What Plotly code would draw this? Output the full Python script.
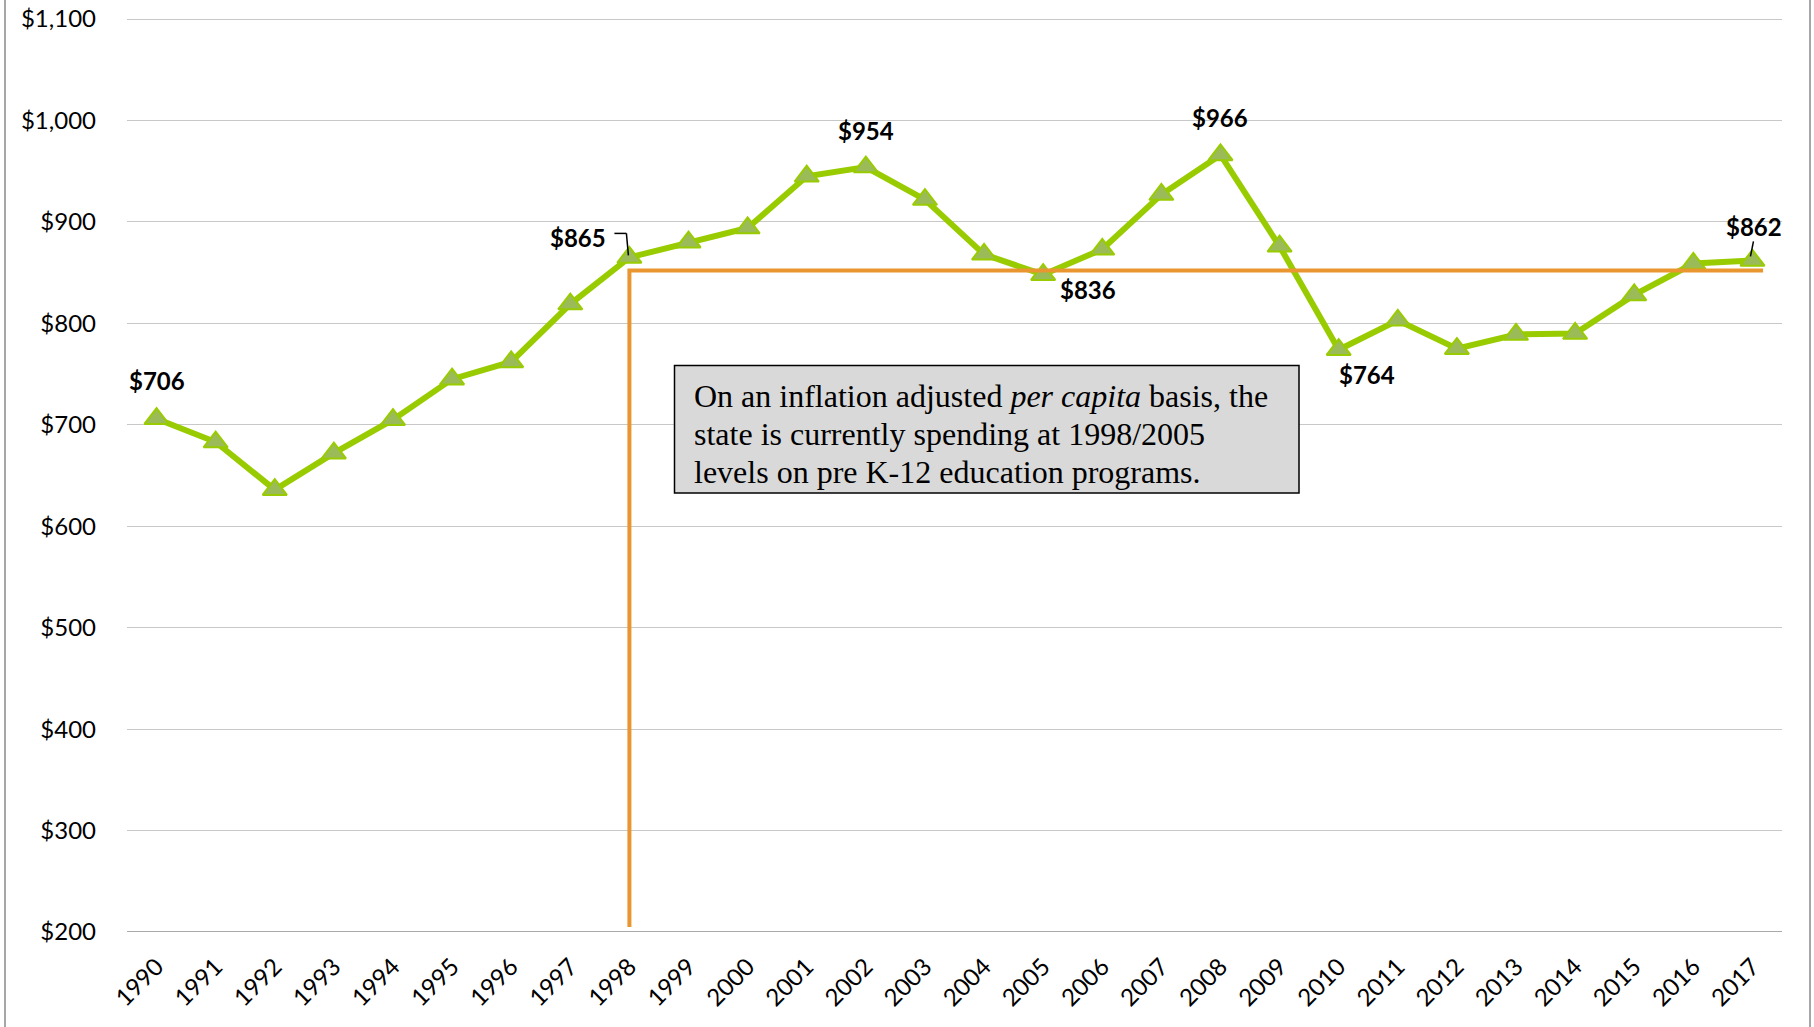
import plotly.graph_objects as go

# ---- data ----
years = list(range(1990, 2018))
spending = [706, 683, 636, 672, 705, 745, 762, 819, 865, 880, 894, 945, 954, 922,
            868, 848, 873, 927, 966, 876, 774, 803, 775, 789, 790, 828, 859, 862]

label_years = [1990, 1998, 2002, 2005, 2008, 2010, 2017]
label_texts = ["$706", "$865", "$954", "$836", "$966", "$764", "$862"]
label_dx = [0, -51, 0, 45, 0, 28, 2]
label_dy = [38, 20, 37, -15, 37, -25, 34]

ref_level = 852
ref_start = 1998
ref_end = 2017.18
ref_floor = 205

y_ticks = [200, 300, 400, 500, 600, 700, 800, 900, 1000, 1100]
y_min, y_max = 200, 1101

note_lines = ["On an inflation adjusted <i>per capita</i> basis, the",
              "state is currently spending at 1998/2005",
              "levels on pre K-12 education programs."]

W, H = 1814, 1027
PL, PR, PT, PB = 127, 1782, 18, 932  # plot area in screenshot pixels
ML, MT = PL, PT
MR, MB = W - PR, H - PB
PW, PH = PR - PL, PB - PT


def px_x(p):
    return (p - PL) / PW


def px_y(p):
    return (PB - p) / PH


fig = go.Figure()

fig.add_trace(go.Scatter(
    x=years, y=spending, mode="lines+markers",
    line=dict(color="#99CC00", width=6),
    marker=dict(symbol="triangle-up", size=21, color="#9BBB59",
                line=dict(color="#99CC00", width=2)),
    hoverinfo="x+y", cliponaxis=False))

fig.add_trace(go.Scatter(
    x=[ref_start, ref_start, ref_end], y=[ref_floor, ref_level, ref_level],
    mode="lines", line=dict(color="#EA9630", width=4), hoverinfo="skip"))

val_by_year = dict(zip(years, spending))
for yr, txt, dx, dy in zip(label_years, label_texts, label_dx, label_dy):
    fig.add_annotation(x=yr, y=val_by_year[yr], text="<b>" + txt + "</b>",
                       showarrow=False, xshift=dx, yshift=dy,
                       font=dict(family="Lato", size=24, color="black"))


def leader(yr, pts):
    for (x0, y0), (x1, y1) in zip(pts[:-1], pts[1:]):
        fig.add_shape(type="line", xref="x", yref="y",
                      xsizemode="pixel", ysizemode="pixel",
                      xanchor=yr, yanchor=val_by_year[yr],
                      x0=x0, y0=y0, x1=x1, y1=y1,
                      line=dict(color="black", width=1.5))


leader(1998, [(-15, 24), (-3, 24), (-1, 2)])
leader(2017, [(1, 19), (-2, 4)])

# note box
fig.add_shape(type="rect", xref="paper", yref="paper",
              x0=px_x(674.5), x1=px_x(1299), y0=px_y(493), y1=px_y(365.6),
              fillcolor="#D9D9D9", line=dict(color="black", width=1.5), layer="above")
for i, line in enumerate(note_lines):
    fig.add_annotation(xref="paper", yref="paper", x=px_x(692), y=px_y(396 + 38 * i),
                       xanchor="left", yanchor="middle", align="left",
                       showarrow=False, text=line,
                       font=dict(family="Liberation Serif", size=32, color="black"))

# chart border lines
for xp in (5, 1810):
    fig.add_shape(type="line", xref="paper", yref="paper",
                  x0=px_x(xp), x1=px_x(xp), y0=px_y(H + 20), y1=px_y(-20),
                  line=dict(color="#A6A6A6", width=2))

fig.update_layout(
    width=W, height=H,
    margin=dict(l=ML, r=MR, t=MT, b=MB, autoexpand=False),
    paper_bgcolor="white", plot_bgcolor="white",
    showlegend=False,
    xaxis=dict(range=[1989.5, 2017.5], tickmode="array", tickvals=years,
               ticktext=[str(y) for y in years], tickangle=-45,
               tickfont=dict(family="Lato", size=24, color="black"),
               showgrid=False, zeroline=False, showline=False, ticks="",
               ticklabelstandoff=15, automargin=False),
    yaxis=dict(range=[y_min, y_max], tickmode="array", tickvals=y_ticks,
               ticktext=["${:,}".format(v) for v in y_ticks],
               tickfont=dict(family="Lato", size=24, color="black"),
               showgrid=True, gridcolor="#C8C8C8", gridwidth=1,
               zeroline=False, showline=False, ticks="",
               ticklabelstandoff=30, automargin=False,
               ticklabeloverflow="allow"),
)
fig.add_shape(type="line", xref="paper", yref="y", x0=0, x1=1, y0=200, y1=200,
              line=dict(color="#8C8C8C", width=1.5), layer="below")

fig.write_html("out.html", config={"displayModeBar": False},
               post_script="document.body.style.margin='0';document.body.style.overflow='hidden';")
